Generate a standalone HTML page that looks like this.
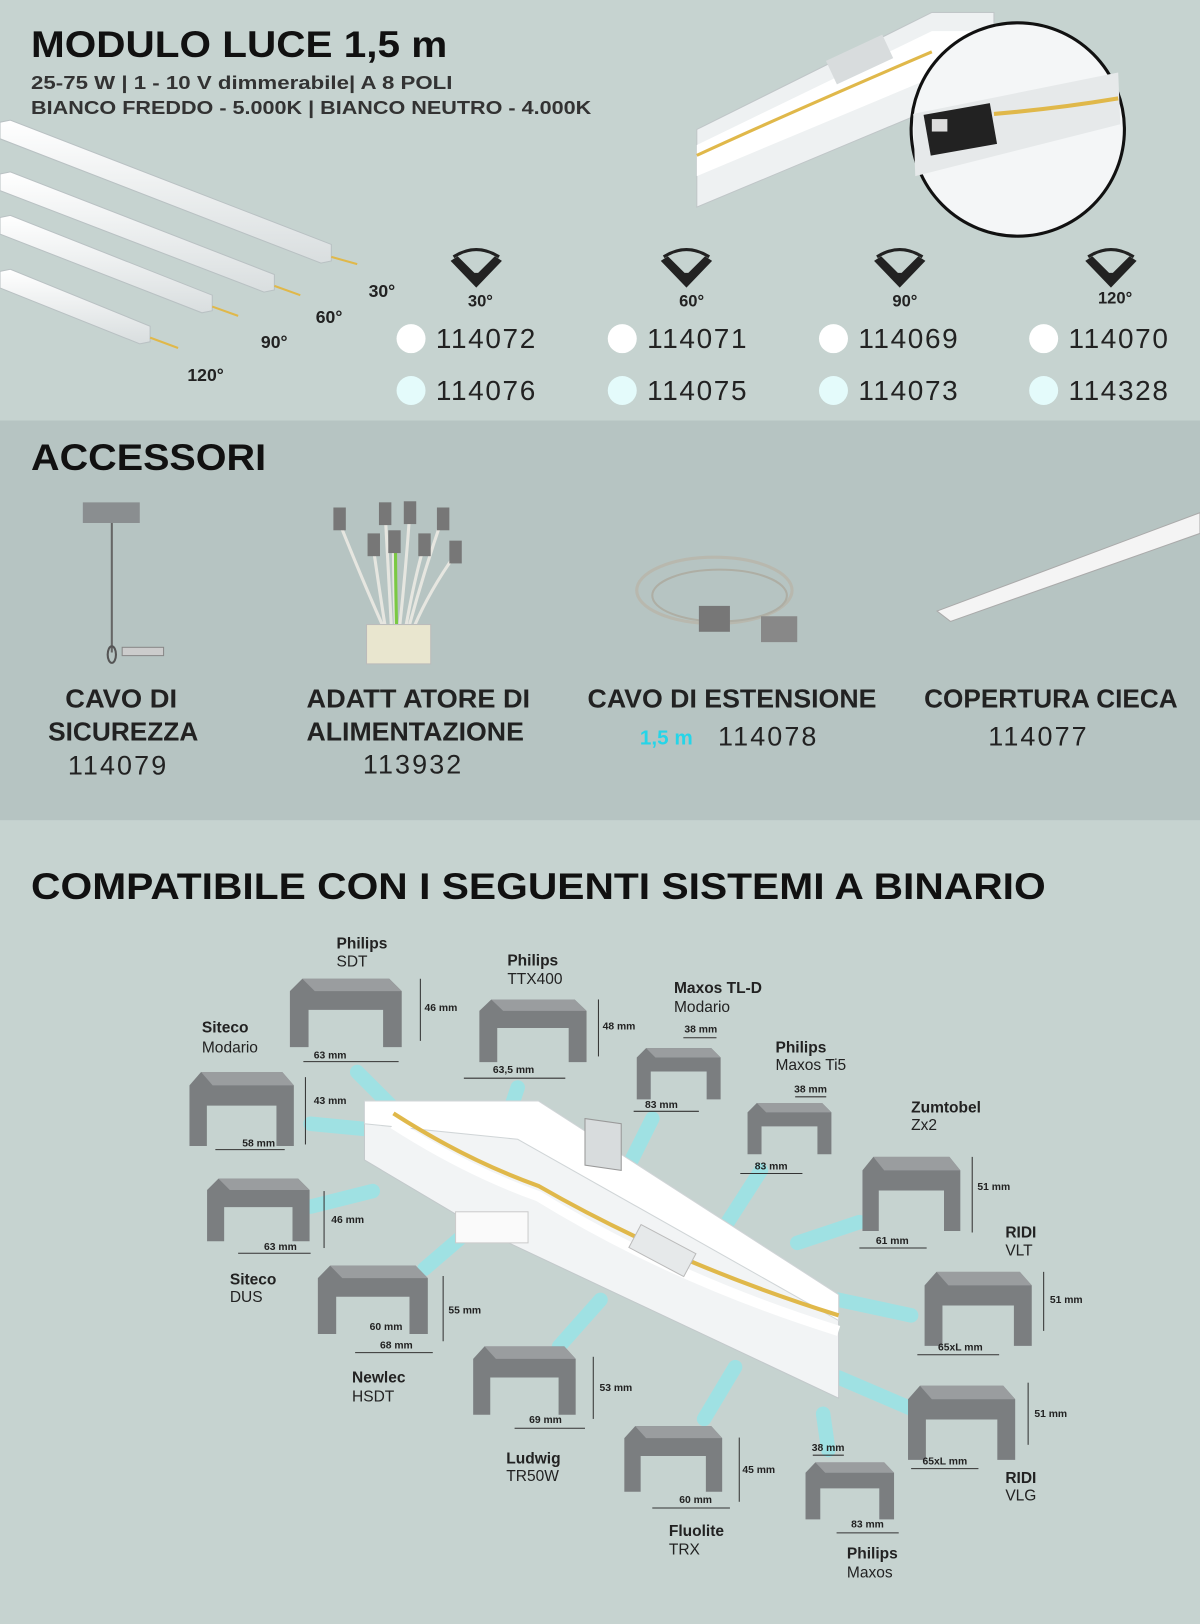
<!DOCTYPE html>
<html><head><meta charset="utf-8"><style>
html,body{margin:0;padding:0;width:1200px;height:1624px;overflow:hidden;background:#c6d3d0}
svg{display:block}
text{font-family:"Liberation Sans",sans-serif}
</style></head><body>
<svg width="1200" height="1624" viewBox="0 0 1159 1568" preserveAspectRatio="none" xmlns="http://www.w3.org/2000/svg">
<defs>
<linearGradient id="bar" x1="0" y1="0" x2="0" y2="1"><stop offset="0" stop-color="#ffffff"/><stop offset="1" stop-color="#d9dedf"/></linearGradient>
<g id="prof"><path d="M0,10 L10,0 L80,0 L90,10 L90,55 L75,55 L75,25 L15,25 L15,55 L0,55 Z" fill="#7b7e80"/><path d="M10,0 L80,0 L90,10 L20,10 Z" fill="#9a9d9f"/></g>
</defs>
<rect x="0" y="0" width="1159" height="406" fill="#c6d3d0"/>
<rect x="0" y="406" width="1159" height="386" fill="#b6c4c2"/>
<rect x="0" y="792" width="1159" height="776" fill="#c6d3d0"/>

<text x="30" y="55" font-size="36" font-weight="bold" fill="#111" textLength="402" lengthAdjust="spacingAndGlyphs">MODULO LUCE 1,5 m</text>
<text x="30" y="86" font-size="18" font-weight="bold" fill="#333" textLength="407" lengthAdjust="spacingAndGlyphs">25-75 W | 1 - 10 V dimmerabile| A 8 POLI</text>
<text x="30" y="110" font-size="18" font-weight="bold" fill="#333" textLength="541" lengthAdjust="spacingAndGlyphs">BIANCO FREDDO - 5.000K | BIANCO NEUTRO - 4.000K</text>

<g fill="url(#bar)" stroke="#b9c1c3" stroke-width="1">
<polygon points="0,118 10,116 320,236 320,252 310,254 0,134"/>
<polygon points="0,168 10,166 265,265 265,280 255,282 0,184"/>
<polygon points="0,210 10,208 205,285 205,300 195,302 0,226"/>
<polygon points="0,262 10,260 145,315 145,330 135,332 0,278"/>
</g>
<g stroke="#e0b84a" stroke-width="2"><line x1="320" y1="248" x2="345" y2="255"/><line x1="265" y1="276" x2="290" y2="285"/><line x1="205" y1="296" x2="230" y2="305"/><line x1="145" y1="326" x2="172" y2="336"/></g>
<g font-size="17" font-weight="bold" fill="#222"><text x="356" y="287">30°</text><text x="305" y="312">60°</text><text x="252" y="336">90°</text><text x="181" y="368">120°</text></g>

<g fill="#222" stroke="#222">
<g transform="translate(460,262)"><path d="M-22,-14 Q0,-28 22,-14" fill="none" stroke-width="3"/><path d="M-24,-10 L0,15 L24,-10 L18,-14 L0,4 L-18,-14 Z"/><path d="M-10,2 L0,12 L10,2 Z"/></g>
<g transform="translate(663,262)"><path d="M-22,-14 Q0,-28 22,-14" fill="none" stroke-width="3"/><path d="M-24,-10 L0,15 L24,-10 L18,-14 L0,4 L-18,-14 Z"/><path d="M-10,2 L0,12 L10,2 Z"/></g>
<g transform="translate(869,262)"><path d="M-22,-14 Q0,-28 22,-14" fill="none" stroke-width="3"/><path d="M-24,-10 L0,15 L24,-10 L18,-14 L0,4 L-18,-14 Z"/><path d="M-10,2 L0,12 L10,2 Z"/></g>
<g transform="translate(1073,262)"><path d="M-22,-14 Q0,-28 22,-14" fill="none" stroke-width="3"/><path d="M-24,-10 L0,15 L24,-10 L18,-14 L0,4 L-18,-14 Z"/><path d="M-10,2 L0,12 L10,2 Z"/></g>
</g>
<g font-size="16" font-weight="bold" fill="#222" text-anchor="middle"><text x="464" y="296">30°</text><text x="668" y="296">60°</text><text x="874" y="296">90°</text><text x="1077" y="293">120°</text></g>
<g fill="#fff"><circle cx="397" cy="327" r="14"/><circle cx="601" cy="327" r="14"/><circle cx="805" cy="327" r="14"/><circle cx="1008" cy="327" r="14"/></g>
<g fill="#e4fbfb"><circle cx="397" cy="377" r="14"/><circle cx="601" cy="377" r="14"/><circle cx="805" cy="377" r="14"/><circle cx="1008" cy="377" r="14"/></g>
<g font-size="27" fill="#222"><text x="421" y="336" textLength="96">114072</text><text x="625" y="336" textLength="96">114071</text><text x="829" y="336" textLength="96">114069</text><text x="1032" y="336" textLength="96">114070</text>
<text x="421" y="386" textLength="96">114076</text><text x="625" y="386" textLength="96">114075</text><text x="829" y="386" textLength="96">114073</text><text x="1032" y="386" textLength="96">114328</text></g>

<polygon points="673,125 900,12 960,12 960,80 673,200" fill="#eef1f2" stroke="#c0c6c8"/>
<polygon points="673,140 900,30 960,30 960,50 673,170" fill="#ffffff"/>
<path d="M673,150 Q760,110 900,50" stroke="#e0b84a" stroke-width="3" fill="none"/>
<rect x="800" y="45" width="60" height="25" fill="#d8dcdd" transform="rotate(-25 830 57)"/>
<circle cx="983" cy="125" r="103" fill="#f4f6f7" stroke="#111" stroke-width="3"/>
<polygon points="882,110 1080,70 1082,120 884,170" fill="#e6e9ea"/>
<path d="M960,110 Q1020,105 1080,95" stroke="#e0b84a" stroke-width="4" fill="none"/>
<rect x="895" y="105" width="65" height="40" fill="#222" transform="rotate(-10 927 125)"/>
<rect x="900" y="115" width="15" height="12" fill="#ddd"/>

<text x="30" y="454" font-size="36" font-weight="bold" fill="#111" textLength="227" lengthAdjust="spacingAndGlyphs">ACCESSORI</text>
<polygon points="80,485 135,485 135,505 80,505" fill="#8a8e90"/>
<line x1="108" y1="505" x2="108" y2="630" stroke="#666" stroke-width="2"/>
<ellipse cx="108" cy="632" rx="4" ry="8" fill="none" stroke="#555" stroke-width="2"/>
<rect x="118" y="625" width="40" height="8" fill="#ccc" stroke="#888"/>
<g stroke="#e6e6e0" stroke-width="3" fill="none">
<path d="M328,505 Q350,560 370,605"/><path d="M372,495 Q375,550 378,605"/><path d="M396,492 Q392,550 386,605"/><path d="M428,498 Q410,550 395,605"/><path d="M360,525 Q365,560 372,605"/><path d="M380,525 Q380,560 382,605"/><path d="M410,525 Q400,560 392,605"/><path d="M440,535 Q415,570 400,605"/>
</g>
<path d="M382,525 Q382,560 383,605" stroke="#7ac943" stroke-width="3" fill="none"/>
<g fill="#777"><rect x="322" y="490" width="12" height="22"/><rect x="366" y="485" width="12" height="22"/><rect x="390" y="484" width="12" height="22"/><rect x="422" y="490" width="12" height="22"/><rect x="355" y="515" width="12" height="22"/><rect x="375" y="512" width="12" height="22"/><rect x="404" y="515" width="12" height="22"/><rect x="434" y="522" width="12" height="22"/></g>
<rect x="354" y="603" width="62" height="38" fill="#e9e6cf" stroke="#bbb"/>
<ellipse cx="690" cy="570" rx="75" ry="32" fill="none" stroke="#b8b8ae" stroke-width="3"/>
<ellipse cx="695" cy="575" rx="65" ry="25" fill="none" stroke="#aeaea4" stroke-width="2"/>
<rect x="675" y="585" width="30" height="25" fill="#777"/><rect x="735" y="595" width="35" height="25" fill="#888"/>
<polygon points="905,590 1159,495 1159,515 918,600" fill="#f4f4f4" stroke="#aaa"/>
<g font-size="25" fill="#222" text-anchor="middle" font-weight="bold">
<text x="117" y="683" textLength="108" lengthAdjust="spacingAndGlyphs">CAVO DI</text><text x="119" y="715" textLength="145" lengthAdjust="spacingAndGlyphs">SICUREZZA</text>
<text x="404" y="683" textLength="216" lengthAdjust="spacingAndGlyphs">ADATT ATORE DI</text><text x="401" y="715" textLength="210" lengthAdjust="spacingAndGlyphs">ALIMENTAZIONE</text>
<text x="707" y="683" textLength="279" lengthAdjust="spacingAndGlyphs">CAVO DI ESTENSIONE</text>
<text x="1015" y="683" textLength="245" lengthAdjust="spacingAndGlyphs">COPERTURA CIECA</text>
</g>
<g font-size="26" fill="#222" text-anchor="middle">
<text x="113" y="748" textLength="95">114079</text><text x="398" y="747" textLength="95">113932</text>
<text x="741" y="720" textLength="95">114078</text><text x="1002" y="720" textLength="95">114077</text>
</g>
<text x="618" y="719" font-size="20" font-weight="bold" fill="#25d5e8">1,5 m</text>

<text x="30" y="868" font-size="36" font-weight="bold" fill="#111" textLength="980" lengthAdjust="spacingAndGlyphs">COMPATIBILE CON I SEGUENTI SISTEMI A BINARIO</text>

<g stroke="#8fe8ec" stroke-width="14" opacity="0.7" stroke-linecap="round">
<line x1="345" y1="1035" x2="380" y2="1070"/><line x1="500" y1="1050" x2="490" y2="1080"/><line x1="630" y1="1080" x2="610" y2="1120"/>
<line x1="735" y1="1130" x2="690" y2="1200"/><line x1="830" y1="1180" x2="770" y2="1200"/><line x1="300" y1="1085" x2="352" y2="1090"/>
<line x1="300" y1="1165" x2="360" y2="1150"/><line x1="410" y1="1225" x2="445" y2="1195"/><line x1="540" y1="1300" x2="580" y2="1255"/>
<line x1="680" y1="1370" x2="710" y2="1320"/><line x1="880" y1="1270" x2="810" y2="1255"/><line x1="880" y1="1360" x2="810" y2="1330"/>
<line x1="800" y1="1400" x2="795" y2="1365"/>
</g>
<polygon points="352,1063 520,1063 810,1250 810,1350 470,1190 352,1120" fill="#f2f4f5" stroke="#c3c9cb"/>
<polygon points="352,1063 520,1063 810,1250 810,1275 500,1100 352,1085" fill="#ffffff" stroke="#d0d5d7"/>
<path d="M380,1075 Q450,1120 520,1145 Q650,1220 810,1270" stroke="#e0b84a" stroke-width="4" fill="none"/>
<path d="M380,1085 Q450,1130 520,1155 Q650,1235 810,1285" stroke="#ffffff" stroke-width="10" fill="none"/>
<rect x="440" y="1170" width="70" height="30" fill="#fafafa" stroke="#ccc"/>
<polygon points="565,1080 600,1085 600,1130 565,1125" fill="#d8dcdd" stroke="#999"/>
<rect x="610" y="1195" width="60" height="25" fill="#e6e9ea" stroke="#bbb" transform="rotate(28 640 1207)"/>

<g>
<use href="#prof" transform="translate(280,945) scale(1.2,1.2)"/>
<use href="#prof" transform="translate(463,965) scale(1.15,1.1)"/>
<use href="#prof" transform="translate(615,1012) scale(0.9,0.9)"/>
<use href="#prof" transform="translate(722,1065) scale(0.9,0.9)"/>
<use href="#prof" transform="translate(833,1117) scale(1.05,1.3)"/>
<use href="#prof" transform="translate(183,1035) scale(1.12,1.3)"/>
<use href="#prof" transform="translate(200,1138) scale(1.1,1.1)"/>
<use href="#prof" transform="translate(307,1222) scale(1.18,1.2)"/>
<use href="#prof" transform="translate(457,1300) scale(1.1,1.2)"/>
<use href="#prof" transform="translate(603,1377) scale(1.05,1.15)"/>
<use href="#prof" transform="translate(893,1228) scale(1.15,1.3)"/>
<use href="#prof" transform="translate(877,1338) scale(1.15,1.3)"/>
<use href="#prof" transform="translate(778,1412) scale(0.95,1.0)"/>
</g>
<g stroke="#333" stroke-width="1">
<line x1="406" y1="945" x2="406" y2="1005"/><line x1="293" y1="1025" x2="385" y2="1025"/>
<line x1="578" y1="965" x2="578" y2="1020"/><line x1="448" y1="1041" x2="546" y2="1041"/>
<line x1="660" y1="1002" x2="692" y2="1002"/><line x1="612" y1="1073" x2="675" y2="1073"/>
<line x1="768" y1="1059" x2="798" y2="1059"/><line x1="715" y1="1133" x2="775" y2="1133"/>
<line x1="939" y1="1117" x2="939" y2="1190"/><line x1="830" y1="1205" x2="895" y2="1205"/>
<line x1="295" y1="1040" x2="295" y2="1105"/><line x1="208" y1="1110" x2="275" y2="1110"/>
<line x1="313" y1="1150" x2="313" y2="1205"/><line x1="230" y1="1210" x2="300" y2="1210"/>
<line x1="428" y1="1232" x2="428" y2="1295"/><line x1="343" y1="1306" x2="418" y2="1306"/>
<line x1="573" y1="1310" x2="573" y2="1370"/><line x1="497" y1="1379" x2="565" y2="1379"/>
<line x1="714" y1="1388" x2="714" y2="1450"/><line x1="630" y1="1456" x2="705" y2="1456"/>
<line x1="1008" y1="1228" x2="1008" y2="1285"/><line x1="886" y1="1308" x2="965" y2="1308"/>
<line x1="993" y1="1335" x2="993" y2="1395"/><line x1="880" y1="1418" x2="945" y2="1418"/>
<line x1="785" y1="1405" x2="815" y2="1405"/><line x1="808" y1="1480" x2="868" y2="1480"/>
</g>
<g font-size="10" font-weight="bold" fill="#222">
<text x="410" y="976">46 mm</text><text x="303" y="1022">63 mm</text>
<text x="582" y="994">48 mm</text><text x="476" y="1036">63,5 mm</text>
<text x="661" y="997">38 mm</text><text x="623" y="1070">83 mm</text>
<text x="767" y="1055">38 mm</text><text x="729" y="1129">83 mm</text>
<text x="944" y="1149">51 mm</text><text x="846" y="1201">61 mm</text>
<text x="303" y="1066">43 mm</text><text x="234" y="1107">58 mm</text>
<text x="320" y="1181">46 mm</text><text x="255" y="1207">63 mm</text>
<text x="433" y="1268">55 mm</text><text x="357" y="1284">60 mm</text><text x="367" y="1302">68 mm</text>
<text x="579" y="1343">53 mm</text><text x="511" y="1374">69 mm</text>
<text x="717" y="1422">45 mm</text><text x="656" y="1451">60 mm</text>
<text x="1014" y="1258">51 mm</text><text x="906" y="1304">65xL mm</text>
<text x="999" y="1368">51 mm</text><text x="891" y="1414">65xL mm</text>
<text x="784" y="1401">38 mm</text><text x="822" y="1475">83 mm</text>
</g>
<g font-size="15" fill="#222">
<text x="325" y="916" font-weight="bold">Philips</text><text x="325" y="933">SDT</text>
<text x="490" y="932" font-weight="bold">Philips</text><text x="490" y="950">TTX400</text>
<text x="651" y="959" font-weight="bold">Maxos TL-D</text><text x="651" y="977">Modario</text>
<text x="749" y="1016" font-weight="bold">Philips</text><text x="749" y="1033">Maxos Ti5</text>
<text x="880" y="1074" font-weight="bold">Zumtobel</text><text x="880" y="1091">Zx2</text>
<text x="195" y="997" font-weight="bold">Siteco</text><text x="195" y="1016">Modario</text>
<text x="971" y="1195" font-weight="bold">RIDI</text><text x="971" y="1212">VLT</text>
<text x="222" y="1240" font-weight="bold">Siteco</text><text x="222" y="1257">DUS</text>
<text x="340" y="1335" font-weight="bold">Newlec</text><text x="340" y="1353">HSDT</text>
<text x="489" y="1413" font-weight="bold">Ludwig</text><text x="489" y="1430">TR50W</text>
<text x="971" y="1432" font-weight="bold">RIDI</text><text x="971" y="1449">VLG</text>
<text x="646" y="1483" font-weight="bold">Fluolite</text><text x="646" y="1501">TRX</text>
<text x="818" y="1505" font-weight="bold">Philips</text><text x="818" y="1523">Maxos</text>
</g>
</svg>
</body></html>
